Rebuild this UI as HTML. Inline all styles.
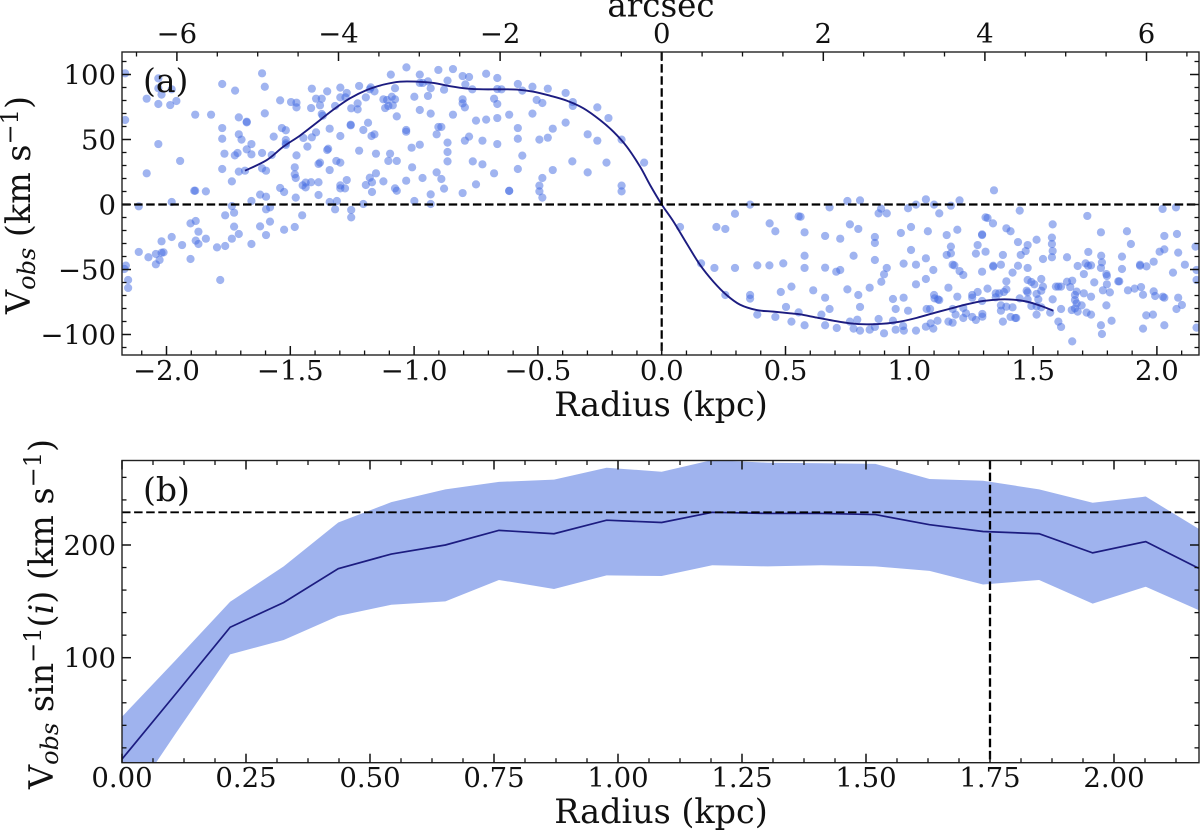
<!DOCTYPE html>
<html lang="en">
<head>
<meta charset="utf-8">
<title>Rotation curve</title>
<style>
html,body{margin:0;padding:0;background:#fff;}
svg{display:block;filter:blur(0.35px);}
text{font-family:"DejaVu Serif","Liberation Serif",serif;fill:#111;}
</style>
</head>
<body>
<svg id="chart" xmlns="http://www.w3.org/2000/svg" width="1200" height="832" viewBox="0 0 1200 832">
<defs>
<clipPath id="clip-a"><rect x="122" y="52" width="1077" height="303"/></clipPath>
<clipPath id="clip-b"><rect x="122" y="460.5" width="1077" height="302.2"/></clipPath>
</defs>
<rect x="0" y="0" width="1200" height="832" fill="#fff"/>
<g id="marks-a" clip-path="url(#clip-a)"></g>
<g id="marks-b" clip-path="url(#clip-b)"></g>
<g id="axes"></g>
<g id="labels"></g>
<text x="143" y="92" font-size="33">(a)</text>
<text x="143" y="501" font-size="33">(b)</text>
<text x="661" y="16.5" font-size="32.5" text-anchor="middle">arcsec</text>
<text x="661" y="416" font-size="33.4" text-anchor="middle">Radius (kpc)</text>
<text x="661" y="823" font-size="33.4" text-anchor="middle">Radius (kpc)</text>
<text transform="translate(30,205) rotate(-90)" font-size="33.4" text-anchor="middle">V<tspan font-size="24" font-style="italic" dy="5">obs</tspan><tspan dy="-5"> (km s</tspan><tspan font-size="24" dy="-12">−1</tspan><tspan dy="12">)</tspan></text>
<text transform="translate(53,614) rotate(-90)" font-size="33.4" text-anchor="middle">V<tspan font-size="24" font-style="italic" dy="5">obs</tspan><tspan dy="-5"> sin</tspan><tspan font-size="24" dy="-12">−1</tspan><tspan dy="12">(</tspan><tspan font-style="italic">i</tspan><tspan>) (km s</tspan><tspan font-size="24" dy="-12">−1</tspan><tspan dy="12">)</tspan></text>
</svg>
<script>
// Panel (a) scatter: radius in kpc
const scatterRadius = [
-2.167,-2.167,-2.033,-2.033,-1.979,-2.080,-2.020,-2.033,-1.985,-1.960,-2.033,-2.080,-1.945,-1.979,-2.112,
-1.775,-1.723,-1.884,-1.820,-1.708,-1.676,-1.676,-1.775,-1.775,-1.708,-1.697,-1.657,-1.676,-1.657,-1.766,
-1.724,-1.713,-1.614,-1.775,-1.708,-1.683,-1.736,-1.614,-1.598,-1.575,-1.884,-1.888,-1.841,-1.657,-1.622,
-1.598,-1.614,-1.603,-1.603,-1.541,-1.497,-1.475,-1.475,-1.413,-1.351,-1.416,-1.396,-1.373,-1.380,-1.319,
-1.298,-1.298,-1.277,-1.272,-1.254,-1.228,-1.228,-1.222,-1.195,-1.175,-1.179,-1.160,-1.124,-1.109,-1.117,
-1.094,-1.077,-1.090,-1.077,-1.104,-1.086,-1.070,-1.534,-1.518,-1.567,-1.518,-1.518,-1.518,-1.475,-1.431,
-1.447,-1.413,-1.396,-1.373,-1.369,-1.341,-1.298,-1.256,-1.256,-1.205,-1.186,-1.172,-1.160,-1.347,-1.351,
-1.222,-1.154,-1.097,-1.104,-1.070,-1.314,-1.298,-1.380,-1.386,-1.341,-1.482,-1.482,-1.478,-1.541,-1.525,
-1.478,-1.450,-1.438,-1.438,-1.416,-1.386,-1.386,-1.341,-1.312,-1.298,-1.298,-1.279,-1.272,-1.195,-1.179,
-1.170,-1.154,-1.124,-1.170,-1.077,-1.070,-1.205,
-1.031,-0.977,-0.902,-0.843,-0.804,-0.778,-0.709,-0.664,-0.977,-0.965,-0.944,-0.865,-0.793,-0.933,-0.879,
-0.765,-0.664,-0.647,-0.581,-0.563,-0.522,-0.460,-0.388,-0.359,-0.359,-0.999,-0.944,-0.804,-0.804,-0.795,
-0.677,-0.664,-0.505,-0.482,-0.260,-0.215,-0.977,-0.933,-0.843,-0.750,-0.709,-0.664,-0.616,-0.522,-0.388,
-1.032,-1.032,-0.902,-0.890,-0.581,-0.440,-0.299,-0.909,-0.778,-0.795,-0.724,-0.581,-0.494,-0.460,-0.260,
-0.162,-0.977,-1.010,-0.865,-0.664,-0.865,-0.865,-0.563,-0.763,-0.724,-0.361,-0.223,-0.071,-1.008,-0.909,
-0.581,-0.440,-0.677,-0.299,-0.966,-1.032,-0.890,-0.482,-0.750,-0.494,-0.162,-0.879,-0.933,-0.804,-0.616,
-0.616,-0.494,-0.162,-0.482,-0.999,-0.933,
-2.164,-2.170,-2.155,-2.155,-2.112,-2.073,-2.043,-2.043,-2.028,-2.020,-2.012,-2.020,-1.979,-1.937,-1.903,
-1.882,-1.871,-1.882,-1.871,-1.841,-1.903,-1.796,-1.783,-1.763,-1.736,-1.708,-1.727,-1.763,-1.727,-1.736,
-1.657,-1.622,-1.598,-1.582,-1.598,-1.582,-1.525,-1.482,-1.452,-1.319,-1.254,-1.254,
0.074,0.221,0.257,0.296,0.357,0.436,0.459,0.553,0.159,0.213,0.296,0.386,0.435,0.491,0.257,
0.357,0.357,0.481,0.524,0.502,0.386,0.459,0.524,0.553,
0.678,0.750,0.801,0.876,0.886,0.909,0.995,1.027,1.067,1.100,1.121,1.168,1.203,1.342,1.446,
1.308,1.316,1.719,2.023,2.077,0.561,
0.577,0.577,0.577,0.577,0.612,0.645,0.660,0.660,0.660,0.678,0.660,0.707,0.721,0.705,0.721,
0.750,0.760,0.794,0.775,0.760,0.790,0.775,0.801,0.794,0.801,0.840,0.861,0.861,0.861,0.840,
0.861,0.876,0.898,0.887,0.898,0.909,0.934,0.945,0.934,0.945,0.966,0.977,0.977,0.975,0.978,
0.995,1.007,1.007,1.027,1.027,1.027,1.067,1.067,1.075,1.097,1.100,1.102,1.116,1.121,1.070,
1.084,1.114,1.067,1.086,1.097,1.151,1.194,1.168,1.151,1.168,1.175,1.182,1.158,1.194,1.175,
1.187,1.158,1.175,1.203,1.218,1.254,1.254,1.276,1.218,1.229,1.218,1.254,1.269,1.295,1.295,
1.294,1.269,1.276,1.294,1.294,1.308,1.294,1.338,1.316,1.339,1.339,1.370,1.392,1.409,1.378,
1.392,1.417,1.392,1.349,1.349,1.363,1.382,1.370,1.392,1.417,1.370,1.409,1.428,1.432,1.378,
1.439,1.450,1.470,1.478,1.439,1.478,1.478,1.493,1.505,1.533,1.540,1.533,1.514,1.474,1.478,
1.446,1.478,1.493,1.521,1.514,1.533,1.514,1.569,1.514,1.540,1.579,1.576,1.576,1.579,1.576,
1.579,1.592,1.602,1.613,1.637,1.637,1.658,1.650,1.613,1.602,1.613,1.658,1.680,1.705,1.712,
1.722,1.734,1.723,1.774,1.775,1.778,1.774,1.747,1.796,1.798,1.798,1.782,1.810,1.844,1.848,
1.859,1.859,1.879,1.895,1.883,1.910,1.936,1.944,1.932,1.932,1.958,1.987,2.011,2.030,2.030,
2.081,2.086,2.113,2.065,1.987,1.993,2.024,2.030,2.086,2.101,2.079,1.984,1.957,1.944,2.030,
2.160,2.156,2.160,2.160,1.676,1.669,1.669,1.676,1.696,1.669,1.656,1.680,1.716,1.734,1.705,
1.734,1.796,1.817,1.774,1.778
];
// Panel (a) scatter: observed velocity in km/s
const scatterVelocity = [
100.9,65,97,89.4,88.6,81.4,84.5,77.3,76.5,79.6,46.5,24,33.5,1.9,-1.4,
92.7,87.6,69.1,69.1,67,63.7,63.2,58.8,50.6,54,49.9,46.5,42.4,38.6,39.1,
37.8,39.6,39.6,27.3,25.3,26,17.8,27.8,26,38.1,10.6,10.6,10.1,2.7,7.6,
6,100.9,90.6,70.1,80.1,78.8,78.3,74.7,89.1,87,74.2,81.4,81.4,76.3,75.8,
89.9,82.4,82.4,85.8,74,77.8,73.2,91.2,82.4,90.1,88.6,87,80.9,80.4,74.2,
99.9,89.4,82.9,80.9,75.8,76.3,67.8,58.8,57.1,52.2,49.6,47,45.8,37.8,44.5,
51.2,51.7,55.5,69.6,68.3,58.3,52.7,61.4,60.9,57.3,62.9,52.7,54,42.9,41.9,
41.4,39.1,39.1,33.5,33.5,33.5,32.2,32.2,31.2,26.5,28.6,23.2,20.4,12.7,9.6,
5.3,14.7,16.8,13.2,17.1,17.1,7.3,1.9,2.7,14.7,12.4,12.4,18.8,15,20.6,
17.1,24,17.8,9.6,12.4,10.6,0.4,
105.5,99.9,103.5,104.2,98.8,98.1,100.6,97.3,93.5,93.5,94.7,95.3,92.4,89.4,88.3,
88.6,88.8,88.6,92.7,87.6,90.6,89.1,85.8,78.8,75.8,82.9,83.5,80.9,77.8,74.7,
81.4,77.3,80.4,78.1,74.7,66.5,72.7,69.9,69.1,64.5,65.3,66.5,69.1,69.9,63,
57.3,56,59.6,59.6,58.8,58.3,54,54,52.2,49.1,49.1,50.6,49.9,51.4,49.1,
49.9,46,43.7,47.6,46.5,40.4,33.2,37.6,33.2,30.9,33.2,32.2,32.2,28.6,24.7,
27.3,26.5,24,24.7,20.4,18.3,19.6,20.4,15.5,14.5,14.5,12.2,7.8,8.8,10.6,
10.4,10.1,10.1,5.3,2.7,0.4,
-47,-49.6,-58.1,-64.2,-36.5,-40.6,-38.1,-46,-42.7,-37.1,-36.8,-28.3,-25,-31.2,-14.5,
-12.7,-20.9,-27.8,-30.4,-26.3,-41.9,-33,-58.1,-31.9,-26.3,-22.7,-17,-8.3,-6.3,-1.2,
-30.4,-16.8,-23.5,-13.2,-3.7,-2.2,-19.4,-17.3,-8.3,-3.7,-4.2,-9.9,
-17.3,-17.3,-18.8,-7.1,-0.1,-14.5,-20.6,-9.1,-45.3,-48.8,-48.8,-46.8,-46.8,-45.3,-69.6,
-69.6,-72.4,-67.3,-63.2,-78.8,-84.7,-86.5,-90.1,-83,
-2.2,2.7,3.2,-6.8,-3.2,-6.8,-2.9,-0.1,4,-0.1,-6.8,-0.9,3.2,10.9,-4.7,
-9.9,-10.4,-8.8,-3.4,-2.2,-9.4,
-21.4,-39.4,-48.8,-92.9,-66,-84.7,-24.2,-48.6,-71.7,-80.4,-92.9,-95,-26.3,-51.7,-50.4,
-65.3,-15.3,-18.8,-39.4,-90.1,-88.6,-95.5,-97,-69.6,-78.8,-64,-25,-29.6,-42.7,-96.3,
-94.2,-88.1,-99.1,-59.4,-53.7,-48.8,-72.7,-80.4,-89.4,-96.3,-21.9,-45.5,-71.7,-93.5,-97,
-81.7,-17.3,-35,-46.3,-61.4,-97,-41.4,-57.3,-20.6,-50.4,-69.6,-72.2,-73,-73.5,-80.4,
-80.4,-89.4,-94,-91.4,-95.5,-23.5,-19.4,-32.4,-38.8,-37.6,-46.3,-46.8,-64,-70.9,-80.4,
-84.7,-90.1,-90.9,-51.2,-54.2,-69.6,-71.7,-67.3,-79.6,-83.7,-87.3,-86.5,-88.8,-84.2,-86.3,
-74.2,-37.8,-31.2,-23.5,-23,-36.3,-51.7,-14.5,-64.7,-47.1,-47.8,-46.3,-18.3,-20.6,-38.8,
-59.1,-52.4,-65.3,-68.3,-71.4,-68.3,-67.3,-77.6,-78.6,-79.1,-81.7,-86.5,-87.3,-87.3,-90.1,
-28.9,-38.8,-35.8,-31.2,-47.1,-48.8,-58.1,-59.6,-61.4,-57.3,-63.2,-66.3,-68.8,-66.3,-67.6,
-72.2,-73,-78.1,-73,-78.3,-79.1,-84.7,-83.2,-27.1,-41.9,-15.3,-25.5,-30.4,-35.8,-40.6,
-73,-63.2,-63.2,-63.2,-40.6,-59.4,-58.6,-63.5,-80.4,-90.1,-94.2,-105.3,-47.3,-53.5,-45.3,
-47.1,-46.8,-36.5,-21.4,-39.4,-44.5,-48.8,-59.9,-53.5,-55,-61.4,-66,-67.6,-59.1,-59.1,
-49.6,-40.1,-20.6,-30.4,-66,-64.7,-63.5,-69.4,-47.1,-46.3,-47.6,-44,-36.3,-34.5,-24.2,
-22.7,-37,-46.3,-52.4,-66.8,-70.4,-70.9,-71.7,-71.7,-77.3,-80.4,-84.7,-85.3,-95.5,-92.9,
-94.7,-32.4,-50.4,-58.1,-67,-69.6,-73.5,-76,-77.6,-79.9,-81.2,-82.4,-83.2,-84.7,-68.3,
-70.9,-77.6,-89.4,-92.9,-99.6
];
// Panel (a) fitted model curve
const modelRadius = [-1.683,-1.595,-1.528,-1.461,-1.393,-1.326,-1.259,-1.191,-1.124,-1.057,-0.989,-0.922,-0.855,-0.787,-0.72,-0.653,-0.585,-0.518,-0.451,-0.384,-0.316,-0.249,-0.195,-0.141,-0.087,-0.047,0,0.047,0.101,0.155,0.209,0.262,0.316,0.384,0.451,0.518,0.559,0.626,0.693,0.76,0.828,0.895,0.962,1.03,1.097,1.164,1.232,1.299,1.366,1.42,1.474,1.528,1.582];
const modelVelocity = [26,34.2,44.5,53,63,73,81.7,88.1,92.2,94.5,94.5,93.5,91,89.2,88.6,88.6,88.4,86.8,83.7,79.9,74,65,56,44.5,29,15,0,-13,-30,-46.5,-59.4,-69.6,-77,-81.2,-82.4,-83.7,-84.5,-87,-89.4,-91.4,-92.2,-91.7,-90.1,-87.2,-83.6,-80.2,-76.8,-74.2,-73,-73.2,-74.7,-77.8,-81.7];
// Panel (b) deprojected rotation curve
const binRadius = [0,0.1085,0.218,0.326,0.436,0.543,0.652,0.76,0.871,0.977,1.088,1.19,1.302,1.41,1.519,1.628,1.736,1.849,1.957,2.064,2.172];
const binVelocity = [10,68,127,149,179,192,200,213,210,222,220,229,228,228,227,218,212,210,193,203,179];
const binUpper = [47.6,98,149.7,181,220,238,249.4,256,258,268.6,265,275.4,273,272.5,272,258.6,257,249.4,237.5,243,214];
const binLower = [-38,33,103,115.7,137,147,150,169,161,173,172.5,182,181,182,181,177,165,169,148,163,142];
// Tick values and labels
const aXTicks = [-2,-1.5,-1,-0.5,0,0.5,1,1.5,2];
const aXLabels = ["−2.0","−1.5","−1.0","−0.5","0.0","0.5","1.0","1.5","2.0"];
const aTopTicks = [-6,-4,-2,0,2,4,6];
const aTopLabels = ["−6","−4","−2","0","2","4","6"];
const aYTicks = [100,50,0,-50,-100];
const aYLabels = ["100","50","0","−50","−100"];
const bXTicks = [0,0.25,0.5,0.75,1,1.25,1.5,1.75,2];
const bXLabels = ["0.00","0.25","0.50","0.75","1.00","1.25","1.50","1.75","2.00"];
const bYTicks = [100,200];
const bYLabels = ["100","200"];
const bReferenceVelocity = 229;
const bReferenceRadius = 1.75;

// Axis functions
const A = {l:122,r:1199,t:52,b:355};
const B = {l:122,r:1199,t:460.5,b:762.7};
function xA(r){return 661.7+247.6*r;}
function xTop(a){return 661.7+80.8*a;}
function yA(v){return 204.5-1.3*v;}
function xB(r){return 122+496*r;}
function yB(v){return 770.4-1.127*v;}

const NS = "http://www.w3.org/2000/svg";
const marksA = document.getElementById("marks-a");
const marksB = document.getElementById("marks-b");
const axes = document.getElementById("axes");
const labels = document.getElementById("labels");
function make(tag, parent, attrs){
  const el = document.createElementNS(NS, tag);
  for (const k in attrs) el.setAttribute(k, attrs[k]);
  parent.appendChild(el);
  return el;
}
function smoothPath(xs, ys){
  let d = "M" + xs[0].toFixed(2) + " " + ys[0].toFixed(2);
  for (let i = 0; i < xs.length - 1; i++){
    const p0 = Math.max(i - 1, 0), p3 = Math.min(i + 2, xs.length - 1);
    const c1x = xs[i] + (xs[i+1] - xs[p0]) / 6, c1y = ys[i] + (ys[i+1] - ys[p0]) / 6;
    const c2x = xs[i+1] - (xs[p3] - xs[i]) / 6, c2y = ys[i+1] - (ys[p3] - ys[i]) / 6;
    d += "C" + c1x.toFixed(2) + " " + c1y.toFixed(2) + " " + c2x.toFixed(2) + " " + c2y.toFixed(2) + " " + xs[i+1].toFixed(2) + " " + ys[i+1].toFixed(2);
  }
  return d;
}
function tick(x1, y1, x2, y2, w){
  const t = make("line", axes, {x1:x1, y1:y1, x2:x2, y2:y2, stroke:"#111", "stroke-width":w});
  
  
}
function label(x, y, str, anchor){
  const t = make("text", labels, {x:x, y:y, "font-size":27.5, "text-anchor":anchor});
  t.textContent = str;
  
  
}
function dashed(parent, x1, y1, x2, y2, w, dash){
  return make("line", parent, {x1:x1, y1:y1, x2:x2, y2:y2, stroke:"#000", "stroke-width":w, "stroke-dasharray":dash});
}

// Panel (a) marks
scatterRadius.forEach(function(r, i){
  const c = make("circle", marksA, {cx:xA(r).toFixed(2), cy:yA(scatterVelocity[i]).toFixed(2), r:4.1, fill:"#4169e1", "fill-opacity":0.5});
  
  
});
const modelLine = make("path", marksA, {d:smoothPath(modelRadius.map(xA), modelVelocity.map(yA)), fill:"none", stroke:"#1c1c80", "stroke-width":1.9});


const zeroH = dashed(marksA, A.l, yA(0), A.r, yA(0), 2.2, "8.5 3.6");


const zeroV = dashed(marksA, xA(0), A.t, xA(0), A.b, 2.2, "8.5 3.6");



// Panel (b) marks
const upperPts = binRadius.map(function(r, i){return xB(r).toFixed(2) + "," + yB(binUpper[i]).toFixed(2);});
const lowerPts = binRadius.map(function(r, i){return xB(r).toFixed(2) + "," + yB(binLower[i]).toFixed(2);}).reverse();
const band = make("polygon", marksB, {points:upperPts.concat(lowerPts).join(" "), fill:"#9fb3ee"});


const binLine = make("polyline", marksB, {points:binRadius.map(function(r, i){return xB(r).toFixed(2) + "," + yB(binVelocity[i]).toFixed(2);}).join(" "), fill:"none", stroke:"#1c1c80", "stroke-width":1.7});


const refH = dashed(marksB, B.l, yB(bReferenceVelocity), B.r, yB(bReferenceVelocity), 1.9, "8.5 3.6");


const refV = dashed(marksB, xB(bReferenceRadius), B.t, xB(bReferenceRadius), B.b, 2.3, "8.5 3.6");



// Panel frames and ticks
const frameA = make("rect", axes, {x:A.l, y:A.t, width:A.r-A.l, height:A.b-A.t, fill:"none", stroke:"#222", "stroke-width":1.4});


const frameB = make("rect", axes, {x:B.l, y:B.t, width:B.r-B.l, height:B.b-B.t, fill:"none", stroke:"#222", "stroke-width":1.4});



aXTicks.forEach(function(v, i){
  tick(xA(v), A.b, xA(v), A.b-9, 1.5);
  label(xA(v), 380, aXLabels[i], "middle");
});
for (let k = -21; k <= 21; k++){
  if (k % 5 !== 0) tick(xA(k/10), A.b, xA(k/10), A.b-4.5, 1.3);
}
aTopTicks.forEach(function(v, i){
  tick(xTop(v), A.t, xTop(v), A.t+9, 1.5);
  label(xTop(v), 43, aTopLabels[i], "middle");
});
for (let k = -13; k <= 13; k++){
  if (k % 4 !== 0) tick(xTop(k/2), A.t, xTop(k/2), A.t+4.5, 1.3);
}
aYTicks.forEach(function(v, i){
  tick(A.l, yA(v), A.l+9, yA(v), 1.5);
  tick(A.r, yA(v), A.r-9, yA(v), 1.5);
  label(116, yA(v)+10, aYLabels[i], "end");
});
for (let k = -11; k <= 11; k++){
  if (k % 5 !== 0){
    tick(A.l, yA(k*10), A.l+4.5, yA(k*10), 1.3);
    tick(A.r, yA(k*10), A.r-4.5, yA(k*10), 1.3);
  }
}

// Panel (b) ticks
bXTicks.forEach(function(v, i){
  tick(xB(v), B.b, xB(v), B.b-9, 1.5);
  tick(xB(v), B.t, xB(v), B.t+9, 1.5);
  label(xB(v), 787, bXLabels[i], "middle");
});
for (let k = 1; k <= 34; k++){
  if (k % 4 !== 0){
    tick(xB(k*0.0625), B.b, xB(k*0.0625), B.b-4.5, 1.3);
    tick(xB(k*0.0625), B.t, xB(k*0.0625), B.t+4.5, 1.3);
  }
}
bYTicks.forEach(function(v, i){
  tick(B.l, yB(v), B.l+9, yB(v), 1.5);
  tick(B.r, yB(v), B.r-9, yB(v), 1.5);
  label(116, yB(v)+10, bYLabels[i], "end");
});
for (let k = 1; k <= 13; k++){
  if (k % 5 !== 0){
    tick(B.l, yB(k*20), B.l+4.5, yB(k*20), 1.3);
    tick(B.r, yB(k*20), B.r-4.5, yB(k*20), 1.3);
  }
}
</script>
</body>
</html>
